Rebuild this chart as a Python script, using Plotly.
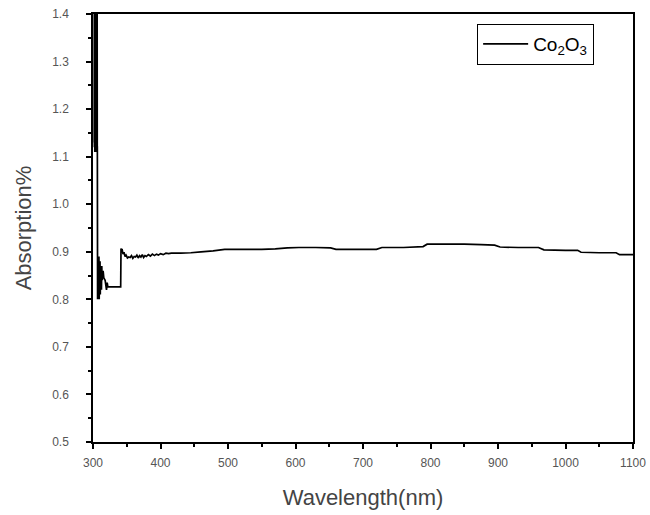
import plotly.graph_objects as go

# Absorption spectrum of Co2O3 (wavelength in nm, absorption in %)
wavelength = [
    301.8, 301.95, 302.1, 302.25, 302.4, 302.55, 302.7, 302.85, 303.0, 303.15,
    303.3, 303.45, 303.6, 303.75, 303.9, 304.05, 304.2, 304.35, 304.5, 304.65,
    304.8, 304.95, 305.1, 305.25, 305.4, 305.55, 305.7, 305.85, 306.0, 306.15,
    306.3, 306.45, 306.8, 307.2, 307.6, 308.0, 308.4,
    308.8, 309.2, 309.6, 310.0, 310.4, 310.8, 311.2, 311.6, 312.0, 312.5,
    313.0, 313.5, 314.0, 315.0, 316.0, 318.0, 320.0, 321.0, 322.0, 324.0,
    330.0, 336.0, 341.0, 341.5, 342.0, 343.0, 344.5, 346.0, 347.5, 349.0,
    351.0, 353.0, 355.0, 357.0, 359.0, 361.0, 363.0, 365.0, 367.0, 369.0,
    371.0, 373.0, 375.0, 377.0, 379.0, 382.0, 385.0, 388.0, 391.0, 394.0,
    397.0, 400.0, 404.0, 408.0, 412.0, 416.0, 430.0, 445.0, 460.0, 478.0,
    495.0, 512.0, 530.0, 550.0, 570.0, 588.0, 605.0, 630.0, 652.0, 660.0,
    690.0, 720.0, 728.0, 760.0, 789.0, 795.0, 820.0, 850.0, 875.0, 895.0,
    903.0, 930.0, 960.0, 968.0, 1000.0, 1018.0, 1023.0, 1050.0, 1075.0, 1080.0,
    1100.0,
]
absorption = [
    1.13, 1.43, 1.12, 1.44, 1.13, 1.42, 1.11, 1.45, 1.13, 1.43,
    1.12, 1.44, 1.11, 1.42, 1.12, 1.45, 1.11, 1.43, 1.12, 1.44,
    1.11, 1.42, 1.12, 1.45, 1.11, 1.43, 1.12, 1.44, 1.11, 1.42,
    1.12, 1.12, 0.80, 0.89, 0.80, 0.88, 0.81,
    0.89, 0.80, 0.87, 0.82, 0.88, 0.81, 0.87, 0.83, 0.86, 0.82,
    0.87, 0.84, 0.85, 0.86, 0.845, 0.84, 0.82, 0.835, 0.826, 0.826,
    0.826, 0.826, 0.826, 0.907, 0.900, 0.906, 0.895, 0.899, 0.890, 0.893,
    0.887, 0.889, 0.888, 0.892, 0.886, 0.890, 0.889, 0.893, 0.887, 0.892,
    0.889, 0.894, 0.888, 0.892, 0.890, 0.894, 0.891, 0.895, 0.892, 0.895,
    0.893, 0.896, 0.894, 0.897, 0.896, 0.897, 0.897, 0.898, 0.900, 0.902,
    0.905, 0.905, 0.905, 0.905, 0.906, 0.908, 0.909, 0.909, 0.908, 0.905,
    0.905, 0.905, 0.909, 0.909, 0.911, 0.916, 0.916, 0.916, 0.915, 0.914,
    0.910, 0.909, 0.909, 0.904, 0.903, 0.903, 0.899, 0.898, 0.898, 0.894,
    0.894,
]

series_name = "Co<sub>2</sub>O<sub>3</sub>"
x_title = "Wavelength(nm)"
y_title = "Absorption%"

FONT = "Liberation Sans, Arial, sans-serif"

fig = go.Figure()
fig.add_trace(go.Scatter(
    x=wavelength, y=absorption, mode="lines", name=series_name,
    line=dict(color="black", width=1.7, simplify=False),
    showlegend=True,
))

axis_common = dict(
    showline=True, linecolor="black", linewidth=1.5, mirror=True,
    ticks="outside", ticklen=5, tickwidth=1.5, tickcolor="black",
    showgrid=False, zeroline=False, automargin=False,
    tickfont=dict(family=FONT, size=12, color="#555"),
    title_font=dict(family=FONT, size=22, color="#444"),
)

fig.update_xaxes(
    range=[300, 1100], dtick=100, tick0=300,
    minor=dict(dtick=50, ticks="outside", ticklen=3, tickwidth=1.5, tickcolor="black"),
    title_text=x_title, title_standoff=20,
    ticklabelstandoff=4,
    **axis_common,
)
fig.update_yaxes(
    range=[0.5, 1.4], dtick=0.1, tick0=0.5, tickformat=".1f",
    minor=dict(dtick=0.05, ticks="outside", ticklen=3, tickwidth=1.5, tickcolor="black"),
    title_text=y_title, title_standoff=14,
    ticklabelstandoff=15,
    **axis_common,
)

fig.update_layout(
    width=650, height=515,
    margin=dict(l=93, r=17, t=14, b=73),
    paper_bgcolor="white", plot_bgcolor="white",
    font=dict(family=FONT, color="black"),
    legend=dict(
        x=0.711, y=0.977, xanchor="left", yanchor="top",
        bgcolor="white", bordercolor="black", borderwidth=1.2,
        itemwidth=45,
        font=dict(family=FONT, size=19, color="black"),
    ),
)

fig.write_html("out.html")
